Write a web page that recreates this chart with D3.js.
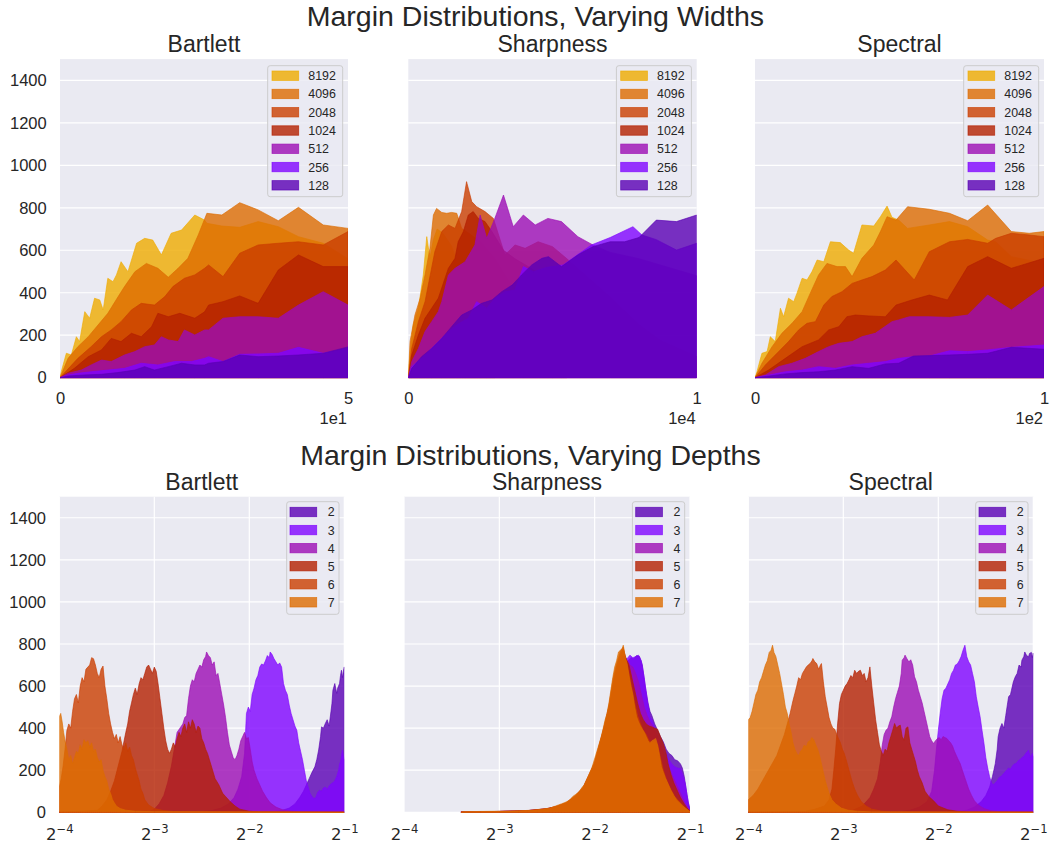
<!DOCTYPE html>
<html><head><meta charset="utf-8">
<script src="https://cdn.jsdelivr.net/npm/d3@7"></script>
<style>
body{margin:0;background:#fff;}
svg{display:block;}
text{font-family:Arial,"Liberation Sans",sans-serif;fill:#262626;}
</style>
</head><body>
<svg id="chart" width="1050" height="844"></svg>
<script>
// ---------------- DATA ----------------
const widthLabels = ["8192","4096","2048","1024","512","256","128"];
const depthLabels = ["2","3","4","5","6","7"];
const yTickValues = [0,200,400,600,800,1000,1200,1400];
const palette = ["#5a00b4","#8004ff","#9c0db4","#b42000","#ca3e00","#dd6c00","#efab00"]; // gnuplot 1/8..7/8
const widthColorIdx = [6,5,4,3,2,1,0];
const depthColorIdx = [0,1,2,3,4,5];
const depthTickExponents = [-4,-3,-2,-1];

// Top row: Bartlett (x 0..50)
const bartlettW8192 = [[0,0],[0.23,29],[1.1,115],[1.97,107],[2.84,193],[3.4,170],[4.3,311],[5.15,280],[6.0,374],[6.9,366],[7.5,319],[8.3,468],[9.2,452],[9.8,484],[10.6,546],[11.8,499],[13.3,633],[14.7,656],[16.1,648],[17.6,578],[19.3,680],[21.1,695],[23.4,766],[25.1,742],[25.5,727],[28.1,714],[31.2,708],[34.4,735],[37.9,711],[41.4,664],[45.7,633],[50,560]];
const bartlettW4096 = [[0,0],[1.4,91],[3.1,146],[4.9,193],[6.6,248],[8.3,303],[10.1,382],[11.2,429],[13,499],[15,538],[17,515],[18.8,473],[20.5,515],[22.2,562],[24,672],[25.5,774],[28.1,766],[31.2,824],[34.4,790],[37.9,739],[41.4,802],[45.7,719],[50,703]];
const bartlettW2048 = [[0,0],[3.1,91],[5.4,146],[7.2,193],[8.9,225],[10.6,264],[12.4,319],[14.1,350],[16.4,342],[18.2,382],[19.6,429],[21.6,468],[23.4,484],[25.1,515],[25.8,531],[28.3,476],[31.2,586],[34.4,625],[37.9,633],[41.4,640],[45.7,625],[50,688]];
const bartlettW1024 = [[0,0],[2.5,44],[4.9,99],[7.2,131],[8.9,185],[10.6,170],[12.4,209],[14.1,193],[15.9,240],[17,303],[18.8,287],[20.8,303],[23.4,280],[25.1,310],[25.8,342],[28.3,358],[31.2,385],[34.4,350],[37.9,507],[41.4,578],[45.7,523],[50,523]];
const bartlettW512 = [[0,0],[1.4,21],[3.7,36],[5.4,60],[7.2,83],[8.9,76],[11.2,107],[13,123],[14.7,146],[16.4,154],[17.6,193],[18.8,178],[20.5,170],[21.6,225],[23.4,201],[25.1,225],[25.8,225],[28.3,280],[31.2,287],[34.4,287],[37.9,280],[41.4,342],[45.7,405],[50,342]];
const bartlettW256 = [[0,0],[1.4,13],[3.1,21],[5.4,28],[8.3,36],[11.2,44],[14.1,68],[17,60],[19.9,76],[22.8,76],[25.1,91],[25.8,99],[28.3,76],[31.2,110],[34.4,112],[37.9,115],[41.4,143],[45.7,115],[50,138]];
const bartlettW128 = [[0,0],[1.4,8],[4.3,13],[7.2,16],[10,24],[13,36],[14.7,52],[16.4,36],[18.8,52],[21.1,68],[23.4,60],[25.1,60],[25.8,68],[28.3,76],[31.2,107],[34.4,99],[37.9,102],[41.4,107],[45.7,115],[50,145]];

// Top row: Sharpness (x 0..10000)
const sharpW8192 = [[0,0],[20,60],[170,248],[350,327],[520,484],[640,664],[750,562],[870,650],[1000,700],[1200,680],[1500,620],[1800,500],[2200,300],[2600,120],[3000,0]];
const sharpW4096 = [[0,0],[60,170],[230,295],[410,374],[580,484],[750,609],[870,766],[980,797],[1160,778],[1330,774],[1500,778],[1680,774],[1850,703],[2100,680],[2500,640],[3000,560],[3500,450],[4000,300],[4500,150],[5000,50],[5500,0]];
const sharpW2048 = [[0,0],[120,138],[350,264],[580,358],[920,593],[1160,688],[1390,719],[1620,703],[1850,782],[2020,923],[2200,829],[2370,805],[2660,782],[2950,750],[3350,578],[3700,625],[4050,609],[4500,640],[5000,617],[5500,560],[6000,500],[7000,380],[8000,250],[9000,150],[10000,80]];
const sharpW1024 = [[0,0],[120,107],[350,201],[580,280],[810,327],[1040,374],[1390,515],[1620,562],[1730,640],[1910,688],[2080,766],[2250,782],[2430,750],[2660,735],[2900,688],[3300,600],[3700,560],[4200,520],[5000,450],[6000,380],[7000,300],[8000,220],[9000,160],[10000,100]];
const sharpW512 = [[0,0],[120,76],[350,138],[580,217],[810,264],[1040,311],[1160,358],[1390,484],[1620,515],[1970,546],[2310,625],[2490,766],[2720,656],[3000,750],[3300,860],[3640,711],[3990,766],[4400,719],[4840,750],[5310,735],[5880,664],[6400,625],[7000,590],[8000,560],[9000,520],[10000,480]];
const sharpW256 = [[0,0],[120,52],[580,107],[1040,170],[1390,217],[1700,250],[2080,280],[2370,358],[2720,327],[3000,374],[3350,405],[3700,413],[3990,523],[4340,499],[4800,520],[5370,531],[6350,625],[7000,660],[7790,711],[8100,672],[8600,650],[9300,601],[10000,633]];
const sharpW128 = [[0,0],[120,44],[460,99],[810,138],[1160,185],[1500,240],[1850,295],[2200,319],[2540,350],[2900,366],[3240,405],[3600,436],[3930,484],[4280,531],[4630,562],[4860,570],[5310,523],[5900,580],[6400,617],[7000,640],[7500,640],[8000,660],[8600,742],[9300,735],[10000,766]];

// Top row: Spectral (x 0..100)
const spectralW8192 = [[0,0],[0.7,29],[2.4,115],[4.2,123],[5.3,193],[7,170],[8.8,327],[9.9,287],[11.6,374],[13.4,358],[14.5,397],[16.3,468],[18,460],[19.7,499],[21.5,554],[23.8,546],[26.1,640],[29.5,636],[32.4,601],[34.1,586],[37,719],[41.1,714],[43.4,758],[45.7,808],[47.4,755],[49.7,742],[52.8,703],[60.3,719],[67.3,735],[73.6,711],[80.5,648],[83.3,640],[88.7,570],[100,538]];
const spectralW4096 = [[0,0],[2.4,68],[5.9,146],[9.3,209],[12.8,256],[16.3,311],[19.1,397],[22,484],[24.9,538],[28.4,523],[31.3,523],[33.6,476],[37,562],[41.1,625],[43.4,688],[45.7,758],[48.8,742],[52.8,805],[60.3,793],[67.3,774],[73.6,739],[80.5,813],[88.7,688],[94.9,680],[100,688]];
const spectralW2048 = [[0,0],[3.6,60],[8.2,123],[11.6,170],[15.1,225],[18,256],[20.9,264],[23.8,342],[26.6,382],[30.1,405],[33.6,444],[37,460],[40.5,476],[45.1,507],[48.8,554],[55.1,460],[60.3,593],[67.3,640],[73.6,651],[80.5,633],[83.3,656],[88.7,680],[94.9,672],[100,664]];
const spectralW1024 = [[0,0],[4.7,36],[10.5,91],[16.3,146],[22,178],[25.5,225],[29,240],[31.8,287],[34.7,295],[39.3,291],[45.1,287],[48.8,342],[54.3,366],[60.3,389],[66.6,366],[73.6,523],[80.5,570],[88.7,515],[100,562]];
const spectralW512 = [[0,0],[3.6,13],[8.2,52],[12.8,68],[17.4,91],[22,123],[25.5,146],[29,162],[33.6,170],[37,193],[41.6,209],[47.4,264],[49.7,272],[53.4,287],[60.3,287],[67.3,284],[73.6,295],[80.5,389],[88.7,319],[100,429]];
const spectralW256 = [[0,0],[5,13],[10.5,28],[16.3,36],[22,52],[27.8,44],[33.6,60],[39.3,68],[45.1,76],[49.7,91],[54.8,99],[60.3,102],[67.3,127],[73.6,123],[80.5,131],[88.7,143],[100,154]];
const spectralW128 = [[0,0],[5,8],[10.5,18],[16.3,24],[22,28],[27.8,36],[33.6,52],[39.3,44],[45.1,65],[49.7,68],[54.8,102],[60.3,104],[67.3,107],[73.6,110],[80.5,115],[88.7,143],[100,134]];

// Bottom row: x given as log2(margin)
const bartlettD2 = [[-1.75,3],[-1.65,10],[-1.58,20],[-1.52,40],[-1.47,70],[-1.43,100],[-1.4,130],[-1.37,160],[-1.34,190],[-1.31,216],[-1.29,250],[-1.27,296],[-1.25,360],[-1.24,406],[-1.22,400],[-1.2,422],[-1.18,440],[-1.16,410],[-1.14,480],[-1.13,517],[-1.12,580],[-1.1,612],[-1.08,565],[-1.07,590],[-1.05,612],[-1.04,650],[-1.03,675],[-1.02,640],[-1.01,670],[-1.0,691]];
const bartlettD3 = [[-2.5,3],[-2.4,8],[-2.3,20],[-2.22,40],[-2.16,70],[-2.12,110],[-2.08,170],[-2.05,280],[-2.03,470],[-2.01,500],[-1.99,480],[-1.97,560],[-1.95,590],[-1.93,630],[-1.91,650],[-1.89,690],[-1.87,705],[-1.85,700],[-1.83,720],[-1.81,745],[-1.79,735],[-1.78,762],[-1.76,750],[-1.74,730],[-1.72,715],[-1.7,700],[-1.68,710],[-1.66,690],[-1.64,612],[-1.62,580],[-1.6,560],[-1.58,510],[-1.56,470],[-1.54,440],[-1.52,410],[-1.5,390],[-1.48,330],[-1.46,290],[-1.44,250],[-1.42,200],[-1.4,150],[-1.38,120],[-1.36,90],[-1.34,75],[-1.32,65],[-1.3,70],[-1.28,95],[-1.26,105],[-1.24,100],[-1.22,115],[-1.2,120],[-1.18,110],[-1.16,125],[-1.14,135],[-1.12,140],[-1.1,150],[-1.08,170],[-1.06,200],[-1.05,230],[-1.04,240],[-1.02,295],[-1.01,270],[-1.0,250]];
const bartlettD4 = [[-3.05,5],[-3.0,15],[-2.95,40],[-2.9,80],[-2.86,140],[-2.82,220],[-2.79,300],[-2.76,380],[-2.73,400],[-2.7,420],[-2.68,450],[-2.66,460],[-2.64,540],[-2.62,600],[-2.6,630],[-2.58,620],[-2.56,660],[-2.54,680],[-2.52,700],[-2.5,690],[-2.48,725],[-2.46,740],[-2.45,762],[-2.43,745],[-2.41,735],[-2.39,700],[-2.37,715],[-2.35,650],[-2.33,660],[-2.31,610],[-2.29,560],[-2.27,510],[-2.25,450],[-2.23,380],[-2.21,320],[-2.19,290],[-2.17,260],[-2.15,250],[-2.13,270],[-2.11,300],[-2.09,340],[-2.07,360],[-2.05,380],[-2.03,350],[-2.01,355],[-1.99,300],[-1.97,240],[-1.95,200],[-1.92,160],[-1.89,130],[-1.86,100],[-1.82,70],[-1.78,45],[-1.72,25],[-1.65,12],[-1.55,5],[-1.45,2]];
const bartlettD5 = [[-3.6,10],[-3.55,30],[-3.5,60],[-3.46,100],[-3.42,150],[-3.38,220],[-3.34,290],[-3.3,380],[-3.28,420],[-3.26,480],[-3.24,520],[-3.22,560],[-3.2,590],[-3.18,560],[-3.16,610],[-3.14,640],[-3.12,630],[-3.1,660],[-3.08,690],[-3.06,700],[-3.04,680],[-3.02,660],[-3.0,690],[-2.98,670],[-2.96,610],[-2.94,540],[-2.92,470],[-2.9,400],[-2.88,340],[-2.86,300],[-2.84,280],[-2.82,300],[-2.8,330],[-2.78,310],[-2.76,350],[-2.74,380],[-2.72,360],[-2.7,400],[-2.68,420],[-2.66,380],[-2.64,430],[-2.62,400],[-2.6,440],[-2.58,420],[-2.56,380],[-2.54,410],[-2.52,400],[-2.5,350],[-2.48,330],[-2.46,300],[-2.44,280],[-2.42,250],[-2.4,220],[-2.38,190],[-2.36,160],[-2.34,145],[-2.32,130],[-2.3,110],[-2.28,90],[-2.25,75],[-2.2,50],[-2.15,30],[-2.1,15],[-2.0,5],[-1.9,2]];
const bartlettD6 = [[-4,120],[-3.98,160],[-3.96,220],[-3.94,300],[-3.92,390],[-3.9,420],[-3.88,400],[-3.86,480],[-3.84,540],[-3.82,560],[-3.8,520],[-3.78,600],[-3.76,640],[-3.74,620],[-3.72,680],[-3.7,690],[-3.68,700],[-3.66,735],[-3.64,730],[-3.62,700],[-3.6,660],[-3.58,640],[-3.56,680],[-3.54,695],[-3.52,600],[-3.5,540],[-3.48,470],[-3.46,420],[-3.44,380],[-3.42,350],[-3.4,370],[-3.38,330],[-3.36,360],[-3.34,320],[-3.32,300],[-3.3,330],[-3.28,290],[-3.26,310],[-3.24,270],[-3.22,250],[-3.2,210],[-3.18,180],[-3.16,150],[-3.14,110],[-3.12,90],[-3.1,60],[-3.06,35],[-3.0,18],[-2.9,8],[-2.8,4]];
const bartlettD7 = [[-4,455],[-3.985,470],[-3.97,430],[-3.955,380],[-3.94,340],[-3.92,300],[-3.9,250],[-3.88,270],[-3.86,230],[-3.84,260],[-3.82,290],[-3.8,280],[-3.78,320],[-3.76,300],[-3.74,345],[-3.72,330],[-3.7,340],[-3.68,310],[-3.66,330],[-3.64,290],[-3.62,300],[-3.6,260],[-3.58,240],[-3.56,250],[-3.54,200],[-3.52,170],[-3.5,150],[-3.48,110],[-3.46,90],[-3.44,60],[-3.42,45],[-3.4,30],[-3.36,18],[-3.3,10],[-3.2,5],[-3.0,3]];

const sharpD2 = [[-3.4,2],[-3.0,4],[-2.7,8],[-2.5,15],[-2.4,25],[-2.3,40],[-2.2,70],[-2.12,110],[-2.05,170],[-2.0,220],[-1.95,300],[-1.9,380],[-1.85,470],[-1.8,580],[-1.76,660],[-1.72,700],[-1.68,690],[-1.65,720],[-1.62,735],[-1.59,730],[-1.56,745],[-1.53,740],[-1.5,700],[-1.47,600],[-1.44,520],[-1.42,480],[-1.4,460],[-1.37,420],[-1.34,390],[-1.31,360],[-1.28,335],[-1.25,300],[-1.22,280],[-1.19,270],[-1.16,250],[-1.13,245],[-1.1,230],[-1.08,210],[-1.06,170],[-1.04,110],[-1.02,50],[-1.0,15]];
const sharpD3 = [[-3.4,2],[-3.0,4],[-2.7,8],[-2.5,16],[-2.4,26],[-2.3,42],[-2.2,72],[-2.12,112],[-2.05,175],[-2.0,225],[-1.95,310],[-1.9,390],[-1.85,480],[-1.8,600],[-1.76,680],[-1.72,720],[-1.69,740],[-1.66,730],[-1.63,747],[-1.6,735],[-1.57,740],[-1.54,747],[-1.51,720],[-1.48,640],[-1.45,540],[-1.42,454],[-1.4,440],[-1.37,400],[-1.34,370],[-1.31,340],[-1.28,312],[-1.25,280],[-1.22,250],[-1.19,230],[-1.16,216],[-1.13,210],[-1.1,208],[-1.07,170],[-1.05,137],[-1.03,80],[-1.01,30],[-1.0,11]];
const sharpD4 = [[-3.4,2],[-3.0,4],[-2.7,8],[-2.5,17],[-2.4,27],[-2.3,43],[-2.2,75],[-2.12,115],[-2.05,180],[-2.0,230],[-1.95,315],[-1.9,400],[-1.85,490],[-1.8,610],[-1.76,690],[-1.72,735],[-1.69,745],[-1.66,720],[-1.63,700],[-1.6,690],[-1.57,660],[-1.54,620],[-1.51,560],[-1.48,500],[-1.45,460],[-1.42,430],[-1.39,410],[-1.36,380],[-1.33,350],[-1.3,310],[-1.27,270],[-1.24,230],[-1.21,200],[-1.18,170],[-1.15,140],[-1.12,110],[-1.09,80],[-1.06,50],[-1.03,25],[-1.0,8]];
const sharpD5 = [[-3.4,2],[-3.0,4],[-2.7,8],[-2.5,17],[-2.4,28],[-2.3,44],[-2.2,78],[-2.12,118],[-2.05,185],[-2.0,235],[-1.95,320],[-1.9,405],[-1.85,500],[-1.8,630],[-1.76,710],[-1.72,760],[-1.7,775],[-1.67,730],[-1.64,700],[-1.61,640],[-1.58,580],[-1.55,520],[-1.52,470],[-1.49,440],[-1.46,420],[-1.43,410],[-1.4,406],[-1.37,400],[-1.34,395],[-1.31,360],[-1.28,327],[-1.25,280],[-1.23,232],[-1.2,180],[-1.17,140],[-1.14,110],[-1.1,70],[-1.06,40],[-1.03,20],[-1.0,6]];
const sharpD6 = [[-3.4,2],[-3.0,4],[-2.7,8],[-2.5,18],[-2.4,28],[-2.3,45],[-2.2,80],[-2.12,120],[-2.05,188],[-2.0,238],[-1.95,325],[-1.9,410],[-1.85,510],[-1.8,650],[-1.76,720],[-1.73,765],[-1.7,785],[-1.67,720],[-1.64,660],[-1.61,590],[-1.58,520],[-1.55,460],[-1.52,420],[-1.49,390],[-1.46,370],[-1.43,340],[-1.4,330],[-1.37,340],[-1.34,320],[-1.31,260],[-1.28,200],[-1.25,160],[-1.22,125],[-1.19,100],[-1.16,75],[-1.12,55],[-1.08,35],[-1.04,18],[-1.0,5]];
const sharpD7 = [[-3.4,0],[-3.38,3],[-3.2,4],[-3.0,5],[-2.8,7],[-2.7,9],[-2.6,12],[-2.55,15],[-2.5,18],[-2.47,19],[-2.44,25],[-2.41,30],[-2.38,35],[-2.35,40],[-2.32,45],[-2.29,51],[-2.26,60],[-2.23,75],[-2.2,85],[-2.17,95],[-2.15,106],[-2.13,120],[-2.11,130],[-2.09,150],[-2.07,170],[-2.05,190],[-2.03,210],[-2.01,240],[-1.99,270],[-1.97,300],[-1.95,330],[-1.93,360],[-1.91,400],[-1.89,440],[-1.87,470],[-1.85,520],[-1.83,580],[-1.81,640],[-1.79,690],[-1.77,720],[-1.75,762],[-1.73,770],[-1.71,780],[-1.7,794],[-1.68,740],[-1.66,707],[-1.64,650],[-1.62,600],[-1.6,560],[-1.58,500],[-1.56,454],[-1.54,430],[-1.52,410],[-1.5,395],[-1.48,380],[-1.46,360],[-1.44,340],[-1.42,327],[-1.4,340],[-1.38,345],[-1.36,351],[-1.34,320],[-1.32,270],[-1.3,216],[-1.28,190],[-1.26,165],[-1.24,145],[-1.22,125],[-1.2,105],[-1.17,80],[-1.14,59],[-1.11,45],[-1.08,32],[-1.05,20],[-1.02,10],[-1.0,3]];

const spectralD2 = [[-1.8,3],[-1.7,10],[-1.62,25],[-1.55,50],[-1.5,80],[-1.46,120],[-1.43,170],[-1.41,210],[-1.4,232],[-1.38,300],[-1.37,359],[-1.35,400],[-1.33,422],[-1.31,400],[-1.29,460],[-1.27,520],[-1.26,549],[-1.24,560],[-1.23,580],[-1.21,620],[-1.19,644],[-1.17,660],[-1.15,700],[-1.13,690],[-1.12,723],[-1.1,740],[-1.09,762],[-1.07,745],[-1.05,739],[-1.04,755],[-1.02,760],[-1.01,735],[-1.0,757]];
const spectralD3 = [[-2.4,3],[-2.3,10],[-2.2,25],[-2.12,50],[-2.07,100],[-2.04,200],[-2.02,300],[-2.0,390],[-1.98,470],[-1.96,540],[-1.94,580],[-1.92,590],[-1.9,610],[-1.88,630],[-1.86,660],[-1.84,675],[-1.82,700],[-1.8,705],[-1.78,720],[-1.76,740],[-1.74,770],[-1.72,794],[-1.7,739],[-1.68,715],[-1.66,700],[-1.64,660],[-1.62,620],[-1.6,549],[-1.58,500],[-1.56,454],[-1.54,390],[-1.52,330],[-1.5,260],[-1.48,210],[-1.46,169],[-1.44,140],[-1.42,130],[-1.4,140],[-1.38,150],[-1.36,165],[-1.34,170],[-1.32,180],[-1.3,190],[-1.28,201],[-1.26,210],[-1.24,205],[-1.22,220],[-1.2,230],[-1.18,232],[-1.16,245],[-1.14,250],[-1.12,260],[-1.1,265],[-1.08,280],[-1.06,290],[-1.05,296],[-1.03,260],[-1.01,280],[-1.0,264]];
const spectralD4 = [[-3.0,3],[-2.9,10],[-2.8,30],[-2.72,70],[-2.68,110],[-2.64,160],[-2.61,240],[-2.59,320],[-2.57,370],[-2.55,390],[-2.53,400],[-2.51,430],[-2.49,454],[-2.47,500],[-2.45,540],[-2.43,570],[-2.41,600],[-2.39,660],[-2.38,723],[-2.36,735],[-2.35,747],[-2.33,730],[-2.31,715],[-2.29,725],[-2.27,700],[-2.25,644],[-2.23,620],[-2.21,580],[-2.19,550],[-2.17,520],[-2.15,480],[-2.13,440],[-2.11,400],[-2.09,359],[-2.07,340],[-2.05,327],[-2.03,340],[-2.01,350],[-1.99,355],[-1.97,345],[-1.95,360],[-1.93,355],[-1.91,351],[-1.89,340],[-1.87,330],[-1.85,315],[-1.83,290],[-1.81,270],[-1.79,250],[-1.77,232],[-1.74,190],[-1.71,150],[-1.68,110],[-1.65,80],[-1.62,55],[-1.58,35],[-1.52,18],[-1.45,8],[-1.35,3]];
const spectralD5 = [[-3.4,5],[-3.3,15],[-3.2,30],[-3.15,60],[-3.12,110],[-3.1,200],[-3.08,300],[-3.06,420],[-3.04,517],[-3.02,560],[-3.0,580],[-2.98,600],[-2.96,612],[-2.94,630],[-2.92,650],[-2.9,640],[-2.88,675],[-2.86,660],[-2.84,670],[-2.82,675],[-2.8,650],[-2.78,660],[-2.76,620],[-2.74,640],[-2.72,691],[-2.7,600],[-2.68,520],[-2.66,440],[-2.64,380],[-2.62,320],[-2.6,290],[-2.58,270],[-2.56,300],[-2.54,290],[-2.52,330],[-2.5,360],[-2.48,390],[-2.46,422],[-2.44,400],[-2.42,410],[-2.4,414],[-2.38,360],[-2.36,343],[-2.34,400],[-2.32,406],[-2.3,330],[-2.28,300],[-2.26,270],[-2.24,240],[-2.22,200],[-2.2,170],[-2.17,140],[-2.14,100],[-2.1,75],[-2.05,55],[-2.0,30],[-1.9,12],[-1.8,5],[-1.7,2]];
const spectralD6 = [[-4,60],[-3.95,80],[-3.9,110],[-3.85,150],[-3.8,190],[-3.75,230],[-3.7,270],[-3.66,320],[-3.62,370],[-3.59,420],[-3.56,470],[-3.53,530],[-3.51,565],[-3.49,600],[-3.47,640],[-3.45,630],[-3.43,660],[-3.41,675],[-3.39,690],[-3.37,700],[-3.35,707],[-3.33,720],[-3.32,731],[-3.3,715],[-3.28,707],[-3.26,680],[-3.24,700],[-3.23,707],[-3.21,620],[-3.19,549],[-3.17,500],[-3.15,450],[-3.13,420],[-3.11,400],[-3.09,395],[-3.07,370],[-3.05,350],[-3.03,330],[-3.01,300],[-2.99,280],[-2.97,250],[-2.94,200],[-2.91,150],[-2.88,110],[-2.85,80],[-2.81,50],[-2.76,30],[-2.7,15],[-2.6,6],[-2.5,3]];
const spectralD7 = [[-4,440],[-3.98,450],[-3.96,480],[-3.94,520],[-3.92,560],[-3.9,580],[-3.88,620],[-3.86,640],[-3.84,670],[-3.82,700],[-3.8,720],[-3.78,760],[-3.76,770],[-3.745,794],[-3.73,760],[-3.71,740],[-3.69,700],[-3.67,660],[-3.65,610],[-3.63,560],[-3.61,500],[-3.59,470],[-3.57,420],[-3.55,380],[-3.53,330],[-3.51,300],[-3.49,280],[-3.47,270],[-3.45,290],[-3.43,300],[-3.41,320],[-3.39,310],[-3.37,335],[-3.35,340],[-3.33,355],[-3.31,345],[-3.29,320],[-3.27,300],[-3.25,270],[-3.23,230],[-3.21,190],[-3.19,150],[-3.17,120],[-3.15,90],[-3.12,60],[-3.08,40],[-3.02,20],[-2.95,10],[-2.85,5],[-2.7,2]];

// ---------------- LAYOUT ----------------
const svg = d3.select("#chart");
const FONT_TICK = 16.5;
const BASE_FONT = "Arial, 'Liberation Sans', sans-serif";
const topRow = {top: 59.1, bottom: 377.7};
const botRow = {top: 496.7, bottom: 812.3};

const panels = [
  {row: topRow, x0: 60, x1: 348, title: "Bartlett", kind: "width", xmax: 50, tickLabel: "5", offset: "1e1", yLabels: true,
   series: [bartlettW8192, bartlettW4096, bartlettW2048, bartlettW1024, bartlettW512, bartlettW256, bartlettW128]},
  {row: topRow, x0: 408.3, x1: 696.7, title: "Sharpness", kind: "width", xmax: 10000, tickLabel: "1", offset: "1e4", yLabels: false,
   series: [sharpW8192, sharpW4096, sharpW2048, sharpW1024, sharpW512, sharpW256, sharpW128]},
  {row: topRow, x0: 755, x1: 1044, title: "Spectral", kind: "width", xmax: 100, tickLabel: "1", offset: "1e2", yLabels: false,
   series: [spectralW8192, spectralW4096, spectralW2048, spectralW1024, spectralW512, spectralW256, spectralW128]},
  {row: botRow, x0: 59.3, x1: 344.3, title: "Bartlett", kind: "depth", yLabels: true, padStart: true,
   series: [bartlettD2, bartlettD3, bartlettD4, bartlettD5, bartlettD6, bartlettD7]},
  {row: botRow, x0: 404, x1: 690, title: "Sharpness", kind: "depth", yLabels: false, padStart: false,
   series: [sharpD2, sharpD3, sharpD4, sharpD5, sharpD6, sharpD7]},
  {row: botRow, x0: 748.3, x1: 1033.3, title: "Spectral", kind: "depth", yLabels: false, padStart: true,
   series: [spectralD2, spectralD3, spectralD4, spectralD5, spectralD6, spectralD7]}
];

// suptitles
svg.append("text").attr("x", 535.4).attr("y", 26).attr("text-anchor", "middle")
  .style("font-size", "28.5px").text("Margin Distributions, Varying Widths");
svg.append("text").attr("x", 530.5).attr("y", 464.5).attr("text-anchor", "middle")
  .style("font-size", "28.5px").text("Margin Distributions, Varying Depths");

panels.forEach((p, pi) => {
  const g = svg.append("g");
  const y = d3.scaleLinear().domain([0, 1500]).range([p.row.bottom, p.row.top]);
  let x, data, colors, labels;
  if (p.kind === "width") {
    x = d3.scaleLinear().domain([0, p.xmax]).range([p.x0, p.x1]);
    data = p.series.map(s => s.map(d => [d[0], d[1]]));
    colors = widthColorIdx.map(i => palette[i]);
    labels = widthLabels;
  } else {
    x = d3.scaleLog().base(2).domain([Math.pow(2, -4), Math.pow(2, -1)]).range([p.x0, p.x1]);
    data = p.series.map(s => {
      const pts = s.map(d => [Math.pow(2, d[0]), d[1]]);
      if (p.padStart && s[0][0] > -4) pts.unshift([Math.pow(2, -4), 0]);
      if (s[s.length - 1][0] < -1) pts.push([Math.pow(2, -1), 0]);
      return pts;
    });
    colors = depthColorIdx.map(i => palette[i]);
    labels = depthLabels;
  }
  const w = p.x1 - p.x0, h = p.row.bottom - p.row.top;
  g.append("rect").attr("x", p.x0).attr("y", p.row.top).attr("width", w).attr("height", h).attr("fill", "#EAEAF2");

  // grid
  g.append("g").selectAll("line").data(yTickValues).join("line")
    .attr("x1", p.x0).attr("x2", p.x1).attr("y1", d => y(d)).attr("y2", d => y(d))
    .attr("stroke", "#fff").attr("stroke-width", 1.2);
  if (p.kind === "depth") {
    g.append("g").selectAll("line").data(depthTickExponents.map(e => Math.pow(2, e))).join("line")
      .attr("x1", d => x(d)).attr("x2", d => x(d)).attr("y1", p.row.top).attr("y2", p.row.bottom)
      .attr("stroke", "#fff").attr("stroke-width", 1.2);
  }

  // clip
  const cid = "clip" + pi;
  g.append("clipPath").attr("id", cid).append("rect")
    .attr("x", p.x0).attr("y", p.row.top).attr("width", w).attr("height", h + 1);
  const area = d3.area().x(d => x(d[0])).y0(y(0)).y1(d => y(d[1]));
  const ag = g.append("g").attr("clip-path", `url(#${cid})`);
  data.forEach((s, i) => {
    ag.append("path").attr("d", area(s))
      .attr("fill", colors[i]).attr("fill-opacity", 0.8)
      .attr("stroke", colors[i]).attr("stroke-opacity", 0.8).attr("stroke-width", 0.8)
      .attr("stroke-linejoin", "round");
  });

  // y axis
  if (p.yLabels) {
    const ya = d3.axisLeft(y).tickValues(yTickValues).tickSize(0).tickPadding(13.3).tickFormat(d3.format("d"));
    const yg = g.append("g").attr("transform", `translate(${p.x0},0)`).call(ya);
    yg.select(".domain").remove();
    yg.selectAll("text").style("font-size", FONT_TICK + "px").style("font-family", BASE_FONT).attr("fill", "#262626");
  }

  // x axis
  if (p.kind === "width") {
    const xa = d3.axisBottom(x).tickValues([0, p.xmax]).tickSize(0).tickFormat((d) => d === 0 ? "0" : p.tickLabel);
    const xg = g.append("g").attr("transform", `translate(0,${p.row.bottom})`).call(xa);
    xg.select(".domain").remove();
    xg.selectAll("text").attr("y", 26.6).attr("dy", null).style("font-size", FONT_TICK + "px")
      .style("font-family", BASE_FONT).attr("fill", "#262626");
    g.append("text").attr("x", p.x1 - 1).attr("y", p.row.bottom + 46.3).attr("text-anchor", "end")
      .style("font-size", FONT_TICK + "px").text(p.offset);
  } else {
    const xa = d3.axisBottom(x).tickValues(depthTickExponents.map(e => Math.pow(2, e))).tickSize(0).tickFormat(() => "");
    const xg = g.append("g").attr("transform", `translate(0,${p.row.bottom})`).call(xa);
    xg.select(".domain").remove();
    xg.selectAll(".tick text").each(function(d) {
      const e = Math.round(Math.log2(d));
      const t = d3.select(this);
      t.attr("y", 27.7).attr("dy", null).attr("fill", "#262626")
        .style("font-family", "'DejaVu Sans', sans-serif").style("font-size", "16.5px");
      t.append("tspan").text("2");
      t.append("tspan").attr("dy", -7).style("font-size", "11.6px").text("\u2212" + Math.abs(e));
    });
  }

  // subplot title
  g.append("text").attr("x", (p.x0 + p.x1) / 2).attr("y", p.row.top - 7.2).attr("text-anchor", "middle")
    .style("font-size", "23px").text(p.title);

  // legend
  const isW = p.kind === "width";
  const lw = isW ? 75 : 52.3;
  const lh = isW ? 131 : 112.6;
  const lx = p.x1 - 5.3 - lw;
  const ly = p.row.top + (isW ? 6.6 : 5);
  const leg = g.append("g");
  leg.append("rect").attr("x", lx).attr("y", ly).attr("width", lw).attr("height", lh)
    .attr("rx", 2.5).attr("fill", "#EAEAF2").attr("fill-opacity", 0.8)
    .attr("stroke", "#CCCCCC").attr("stroke-width", 1);
  const rowGap = isW ? 18.27 : 18.06;
  const firstRow = ly + (isW ? 10 : 10.3);
  labels.forEach((lab, i) => {
    const cy = firstRow + i * rowGap;
    leg.append("rect").attr("x", lx + (isW ? 4.3 : 3.3)).attr("y", cy - 4.7).attr("width", 26.7).attr("height", 9.4)
      .attr("fill", colors[i]).attr("fill-opacity", 0.8).attr("stroke", colors[i]).attr("stroke-opacity", 0.8).attr("stroke-width", 0.8);
    leg.append("text").attr("x", lx + (isW ? 40.6 : 41)).attr("y", cy).attr("dy", "0.36em")
      .style("font-size", "12.4px").text(lab);
  });
});
</script>
</body></html>
